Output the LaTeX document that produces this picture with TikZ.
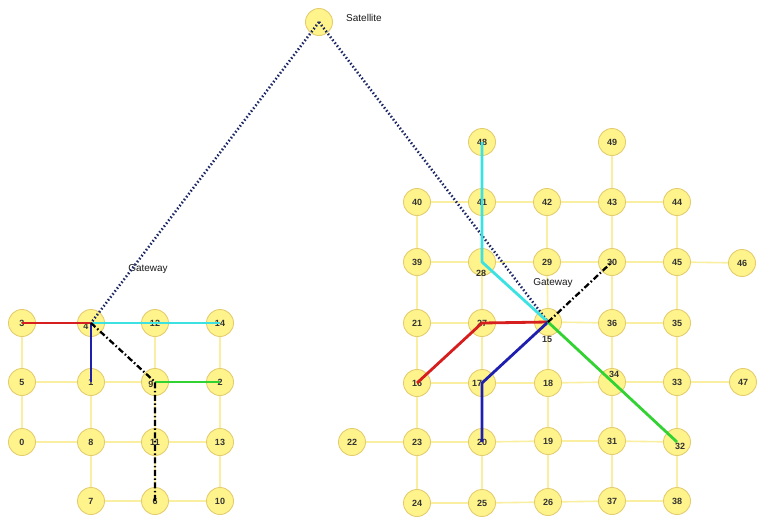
\documentclass[tikz,border=0pt]{standalone}
\usepackage{fontspec}
\setmainfont{Liberation Sans}
\usetikzlibrary{backgrounds}
\definecolor{nodefill}{RGB}{255,244,140}
\definecolor{nodeedge}{RGB}{228,205,110}
\definecolor{gridline}{RGB}{250,238,160}
\definecolor{satlink}{RGB}{30,40,100}
\definecolor{pred}{RGB}{215,30,30}
\definecolor{pcyan}{RGB}{60,225,225}
\definecolor{pblue}{RGB}{30,30,175}
\definecolor{pgreen}{RGB}{50,210,50}
\tikzset{
  nd/.style={circle,draw=nodeedge,fill=nodefill,line width=0.9pt,minimum size=27pt,inner sep=0pt,
    font=\fontsize{9}{10}\selectfont\bfseries,text=black!80},
  lbl/.style={font=\fontsize{9}{10}\selectfont\bfseries,text=black!80,inner sep=0pt},
  captext/.style={font=\fontsize{10}{11}\selectfont,text=black!90,inner sep=0pt},
  link/.style={draw=gridline,line width=1.6pt},
  uplink/.style={draw=satlink,line width=2.6pt,dash pattern=on 1.5pt off 2.2pt},
  route/.style={line width=2.8pt,line join=round},
  dashdot/.style={draw=black,line width=2.3pt,dash pattern=on 6pt off 2.5pt on 1.5pt off 2.5pt}
}
\begin{document}
\begin{tikzpicture}[x=1pt,y=-1pt]
\useasboundingbox (0,0) rectangle (757,517);

% satellite
\node[nd] (sat) at (319,22) {};
\node[captext] (satname) at (364,18) {Satellite};

% left cluster
\node[nd] (n3) at (22,323) {3};
\node[nd,label={[lbl,xshift=-5pt,yshift=-3pt]center:4}] (n4) at (91,323) {};
\node[nd] (n12) at (155,323) {12};
\node[nd] (n14) at (220,323) {14};
\node[nd] (n5) at (22,382) {5};
\node[nd] (n1) at (91,382) {1};
\node[nd,label={[lbl,xshift=-4pt,yshift=-2pt]center:9}] (n9) at (155,382) {};
\node[nd] (n2) at (220,382) {2};
\node[nd] (n0) at (22,442) {0};
\node[nd] (n8) at (91,442) {8};
\node[nd] (n11) at (155,442) {11};
\node[nd] (n13) at (220,442) {13};
\node[nd] (n7) at (91,501) {7};
\node[nd] (n6) at (155,501) {6};
\node[nd] (n10) at (220,501) {10};

% right cluster
\node[nd] (n48) at (482,142) {48};
\node[nd] (n49) at (612,142) {49};
\node[nd] (n40) at (417,202) {40};
\node[nd] (n41) at (482,202) {41};
\node[nd] (n42) at (547,202) {42};
\node[nd] (n43) at (612,202) {43};
\node[nd] (n44) at (677,202) {44};
\node[nd] (n39) at (417,262) {39};
\node[nd,label={[lbl,xshift=-1pt,yshift=-11pt]center:28}] (n28) at (482,262) {};
\node[nd] (n29) at (547,262) {29};
\node[nd] (n30) at (612,262) {30};
\node[nd] (n45) at (677,262) {45};
\node[nd] (n46) at (742,263) {46};
\node[nd] (n21) at (417,323) {21};
\node[nd] (n27) at (482,323) {27};
\node[nd,label={[lbl,xshift=-1pt,yshift=-17pt]center:15}] (n15) at (548,322) {};
\node[nd] (n36) at (612,323) {36};
\node[nd] (n35) at (677,323) {35};
\node[nd] (n16) at (417,383) {16};
\node[nd,label={[lbl,xshift=-5pt]center:17}] (n17) at (482,383) {};
\node[nd] (n18) at (548,383) {18};
\node[nd,label={[lbl,xshift=2pt,yshift=8pt]center:34}] (n34) at (612,382) {};
\node[nd] (n33) at (677,382) {33};
\node[nd] (n47) at (743,382) {47};
\node[nd] (n22) at (352,442) {22};
\node[nd] (n23) at (417,442) {23};
\node[nd] (n20) at (482,442) {20};
\node[nd] (n19) at (548,441) {19};
\node[nd] (n31) at (612,441) {31};
\node[nd,label={[lbl,xshift=3pt,yshift=-4pt]center:32}] (n32) at (677,442) {};
\node[nd] (n24) at (417,503) {24};
\node[nd] (n25) at (482,503) {25};
\node[nd] (n26) at (548,502) {26};
\node[nd] (n37) at (612,501) {37};
\node[nd] (n38) at (677,501) {38};

% gateway captions
\node[captext] (gwleft) at (148,269) {Gateway};
\node[captext] (gwright) at (553,283) {Gateway};

% mesh links
\begin{scope}[on background layer]
\foreach \a/\b in {3/4,4/12,12/14,5/1,1/9,9/2,0/8,8/11,11/13,7/6,6/10,
  3/5,5/0,4/1,1/8,8/7,12/9,9/11,11/6,14/2,2/13,13/10,
  40/41,41/42,42/43,43/44,39/28,28/29,29/30,30/45,45/46,
  21/27,27/15,15/36,36/35,16/17,17/18,18/34,34/33,33/47,
  22/23,23/20,20/19,19/31,31/32,24/25,25/26,26/37,37/38,
  48/41,49/43,40/39,39/21,21/16,16/23,23/24,41/28,28/27,27/17,17/20,20/25,
  42/29,29/15,15/18,18/19,19/26,43/30,30/36,36/34,34/31,31/37,
  44/45,45/35,35/33,33/32,32/38}
  \draw[link] (n\a) -- (n\b);
\end{scope}

% satellite uplinks
\draw[uplink] (sat.center) -- (n4.center);
\draw[uplink] (sat.center) -- (n15.center);

% routes in the left cluster
\draw[route,pred] (n3.center) -- (n4.center);
\draw[route,pcyan] (n4.center) -- (n14.center);
\draw[route,pblue] (n4.center) -- (n1.center);
\draw[route,pgreen] (n9.center) -- (n2.center);
\draw[dashdot] (n4.center) -- (n9.center) -- (n6.center);

% routes in the right cluster
\draw[route,pcyan] (n48.center) -- (n28.center) -- (n15.center);
\draw[route,pred] (n16.center) -- (n27.center) -- (n15.center);
\draw[route,pblue] (n20.center) -- (n17.center) -- (n15.center);
\draw[route,pgreen] (n15.center) -- (n32.center);
\draw[dashdot] (n15.center) -- (n30.center);
\end{tikzpicture}
\end{document}
